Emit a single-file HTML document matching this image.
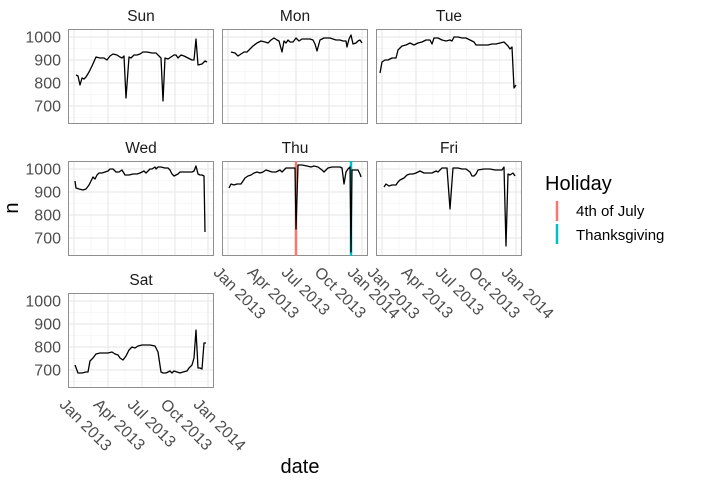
<!DOCTYPE html>
<html><head><meta charset="utf-8"><style>
body{margin:0;background:#fff}
svg{display:block;font-family:"Liberation Sans",sans-serif}
</style></head><body>
<svg width="720" height="480" viewBox="0 0 720 480">
<defs>
<g id="grid">
<rect x="0" y="0" width="146" height="95" fill="#fff"/>
<g stroke="#f2f2f2" stroke-width="0.6">
<line x1="23" y1="0" x2="23" y2="95"/><line x1="57" y1="0" x2="57" y2="95"/><line x1="90.5" y1="0" x2="90.5" y2="95"/><line x1="123.5" y1="0" x2="123.5" y2="95"/>
<line x1="0" y1="19.5" x2="146" y2="19.5"/><line x1="0" y1="42.5" x2="146" y2="42.5"/><line x1="0" y1="65.5" x2="146" y2="65.5"/><line x1="0" y1="88.5" x2="146" y2="88.5"/>
</g>
<g stroke="#e6e6e6" stroke-width="1.1">
<line x1="6" y1="0" x2="6" y2="95"/><line x1="40" y1="0" x2="40" y2="95"/><line x1="74" y1="0" x2="74" y2="95"/><line x1="107" y1="0" x2="107" y2="95"/><line x1="140" y1="0" x2="140" y2="95"/>
<line x1="0" y1="8" x2="146" y2="8"/><line x1="0" y1="31" x2="146" y2="31"/><line x1="0" y1="54" x2="146" y2="54"/><line x1="0" y1="77" x2="146" y2="77"/>
</g>
<rect x="0.5" y="0.5" width="145" height="94" fill="none" stroke="#8f8f8f" stroke-width="1"/>
</g>
<g id="yt" font-size="16" fill="#4d4d4d" text-anchor="end">
<text x="61" y="13.5">1000</text><text x="61" y="36.5">900</text><text x="61" y="59.5">800</text><text x="61" y="82.5">700</text>
</g>
<g id="xt" font-size="16" fill="#4d4d4d">
<text transform="translate(-2,10) rotate(45)" dominant-baseline="hanging">Jan 2013</text>
<text transform="translate(32,10) rotate(45)" dominant-baseline="hanging">Apr 2013</text>
<text transform="translate(66,10) rotate(45)" dominant-baseline="hanging">Jul 2013</text>
<text transform="translate(99,10) rotate(45)" dominant-baseline="hanging">Oct 2013</text>
<text transform="translate(132,10) rotate(45)" dominant-baseline="hanging">Jan 2014</text>
</g>
</defs>

<use href="#grid" x="68" y="29"/><use href="#grid" x="222" y="29"/><use href="#grid" x="376" y="29"/>
<use href="#grid" x="68" y="161"/><use href="#grid" x="222" y="161"/><use href="#grid" x="376" y="161"/>
<use href="#grid" x="68" y="293"/>

<use href="#yt" x="0" y="29"/><use href="#yt" x="0" y="161"/><use href="#yt" x="0" y="293"/>

<g font-size="15.5" fill="#1a1a1a" text-anchor="middle">
<text x="141" y="21">Sun</text><text x="295" y="21">Mon</text><text x="449" y="21">Tue</text>
<text x="141" y="153">Wed</text><text x="295" y="153">Thu</text><text x="449" y="153">Fri</text>
<text x="141" y="285">Sat</text>
</g>

<line x1="296" y1="161" x2="296" y2="256" stroke="#F8766D" stroke-width="2.5"/>
<line x1="351" y1="161" x2="351" y2="256" stroke="#00BFC4" stroke-width="2.5"/>

<g fill="none" stroke="#000" stroke-width="1.3" stroke-linejoin="round">
<polyline points="76,75 78,76 80,85 82,78 84,79 86,77 89,72 92,66 96,57 100,58 104,58 107,60 110,56 113,54 117,55 120,57 122,58 124,56 126,98 129,57 131,58 134,55 137,55 140,54 143,52 147,52 152,53 156,53 159,56 161,58 163,101 165,58 168,59 171,57 174,55 176,55 178,58 181,55 184,56 188,58 192,60 194,60 196,39 198,65 202,64 205,61 207,62"/>
<polyline points="231,52 235,53 238,56 241,54 244,52 247,52 250,49 253,46 257,43 261,41 265,42 268,43 271,40 274,38 277,40 279,41 282,52 284,41 286,43 288,40 290,42 293,42 296,38 299,41 302,39 305,39 310,39 313,40 315,44 317,51 320,40 324,38 330,38 333,39 336,40 340,40 343,41 346,41 347,47 349,39 351,35 353,44 356,43 358,41 360,40 362,43"/>
<polyline points="380,73 382,62 385,60 388,60 392,58 396,58 398,50 402,46 406,45 410,43 414,45 418,43 422,42 426,40 430,40 432,44 434,38 438,38 442,40 446,41 450,40 452,41 454,37 458,37 462,38 466,38 470,40 474,42 476,45 480,45 484,45 488,45 492,44 496,44 500,43 504,42 508,46 510,49 512,47 514,88 516,85"/>
<polyline points="75,181 76,188 79,189 83,190 86,189 89,185 91,181 93,177 95,179 97,175 99,173 102,173 105,172 108,171 110,169 113,169 116,172 119,172 122,170 125,175 129,175 133,174 137,174 140,173 142,172 144,171 146,173 148,171 150,169 152,169 155,167 156,169 158,167 161,167 165,168 168,168 170,170 172,174 174,176 176,175 178,174 180,172 185,172 190,172 192,172 194,171 196,166 198,174 200,175 202,175 204,176 205,232"/>
<polyline points="229,188 231,184 234,185 237,184 241,184 243,181 245,178 248,176 251,175 254,173 257,172 260,173 263,172 266,170 269,171 272,172 276,172 280,170 282,172 284,170 286,168 288,168 295,168 296,229 298,165 302,165 307,166 311,167 314,166 318,167 322,170 324,172 326,170 328,168 332,167 336,167 340,167 342,168 344,184 346,172 348,169 350,167 351,252 352,170 356,170 358,170 360,174 361,177"/>
<polyline points="384,187 386,184 389,186 392,185 396,185 398,182 400,180 404,178 407,175 410,174 413,174 416,173 420,171 424,173 428,173 432,173 436,171 438,172 440,170 442,168 445,168 447,168 450,209 453,168 458,168 462,169 466,169 470,172 472,176 474,176 476,174 478,170 484,169 490,169 495,170 500,170 502,170 504,167 506,246 508,174 510,175 513,173 515,176"/>
<polyline points="75,365 78,373 82,373 86,372 88,372 90,361 93,358 96,354 100,353 104,353 108,353 112,352 115,354 118,355 120,358 123,360 126,356 129,350 132,347 135,348 138,346 142,345 146,345 150,345 155,346 158,352 161,372 163,373 166,373 170,371 172,373 174,371 177,372 180,373 183,372 187,371 189,368 192,365 194,358 196,330 198,368 200,368 202,369 204,343 206,343"/>
</g>

<use href="#xt" x="222" y="256"/><use href="#xt" x="376" y="256"/><use href="#xt" x="68" y="388"/>

<text x="300" y="473" font-size="20" fill="#000" text-anchor="middle">date</text>
<text transform="translate(18,208) rotate(-90)" font-size="20" fill="#000" text-anchor="middle">n</text>

<text x="545" y="190" font-size="20" fill="#000">Holiday</text>
<line x1="557" y1="201" x2="557" y2="221" stroke="#F8766D" stroke-width="2.5"/>
<line x1="557" y1="224" x2="557" y2="244" stroke="#00BFC4" stroke-width="2.5"/>
<text x="576" y="216" font-size="15" fill="#000">4th of July</text>
<text x="576" y="240" font-size="15" fill="#000">Thanksgiving</text>
</svg>
</body></html>
